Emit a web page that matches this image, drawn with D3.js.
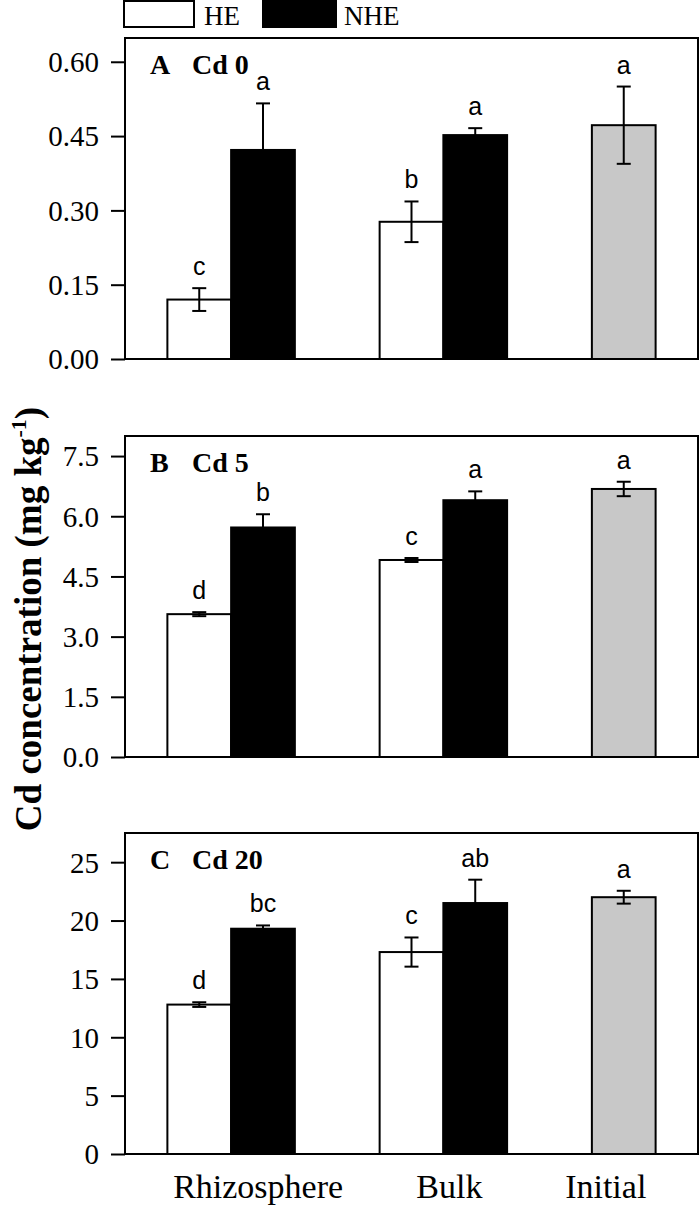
<!DOCTYPE html>
<html><head><meta charset="utf-8">
<script src="https://cdn.jsdelivr.net/npm/d3@7"></script>
<style>body{margin:0;background:#fff}</style>
</head><body>
<svg id="chart" width="700" height="1208"></svg>
<script>
// ---------- DATA ----------
const groups = ["Rhizosphere", "Bulk", "Initial"];
const barGroup = ["Rhizosphere", "Rhizosphere", "Bulk", "Bulk", "Initial"];
const barSeries = ["HE", "NHE", "HE", "NHE", "Initial"];
const legendSeries = ["HE", "NHE"];
const panelLetters = ["A", "B", "C"];
const panelTitles = ["Cd 0", "Cd 5", "Cd 20"];

const valuesA = [0.120, 0.422, 0.277, 0.452, 0.472];
const errorsA = [0.023, 0.094, 0.041, 0.014, 0.078];
const lettersA = ["c", "a", "b", "a", "a"];

const valuesB = [3.56, 5.72, 4.91, 6.40, 6.68];
const errorsB = [0.05, 0.33, 0.05, 0.22, 0.18];
const lettersB = ["d", "b", "c", "a", "a"];

const valuesC = [12.8, 19.3, 17.3, 21.5, 22.0];
const errorsC = [0.20, 0.28, 1.25, 2.0, 0.55];
const lettersC = ["d", "bc", "c", "ab", "a"];

const ticksA = [0, 0.15, 0.30, 0.45, 0.60];
const ticksB = [0, 1.5, 3.0, 4.5, 6.0, 7.5];
const ticksC = [0, 5, 10, 15, 20, 25];
const yMaxA = 0.648, yMaxB = 8.0, yMaxC = 27.5;

const yLabel = "Cd concentration (mg kg";
const yLabelSup = "-1";

// ---------- LAYOUT ----------
const svg = d3.select("#chart");
const left = 125, right = 698, panelH = 321;
const tops = [38, 436, 833];
const serif = "'Liberation Serif','Times New Roman',serif";
const sans = "'Liberation Sans',Arial,sans-serif";
const fill = {HE: "#ffffff", NHE: "#000000", Initial: "#c8c8c8"};

// slot layout: groups separated by gap (in bar widths), half gap at edges
const gap = 1.33;
const slot = [];
let u = gap / 2;
const groupSpan = {};
groups.forEach(g => {
  const start = u;
  barGroup.forEach((bg, i) => { if (bg === g) { slot[i] = u; u += 1; } });
  groupSpan[g] = [start, u];
  u += gap;
});
const total = u - gap / 2;
const x = d3.scaleLinear().domain([0, total]).range([left, right]);

const panels = [
  {vals: valuesA, errs: errorsA, lets: lettersA, ticks: ticksA, max: yMaxA, fmt: d3.format(".2f")},
  {vals: valuesB, errs: errorsB, lets: lettersB, ticks: ticksB, max: yMaxB, fmt: d3.format(".1f")},
  {vals: valuesC, errs: errorsC, lets: lettersC, ticks: ticksC, max: yMaxC, fmt: d3.format("d")}
];

panels.forEach((p, pi) => {
  const top = tops[pi];
  const y = d3.scaleLinear().domain([0, p.max]).range([top + panelH, top]);
  const g = svg.append("g");

  // bars
  g.selectAll("rect.bar").data(p.vals).join("rect")
    .attr("class", "bar")
    .attr("x", (d, i) => x(slot[i]))
    .attr("width", (d, i) => x(slot[i] + 1) - x(slot[i]))
    .attr("y", d => y(d))
    .attr("height", d => y(0) - y(d))
    .attr("fill", (d, i) => fill[barSeries[i]])
    .attr("stroke", "#000").attr("stroke-width", 2);

  // error bars + significance letters
  const cap = 7;
  p.vals.forEach((v, i) => {
    const cx = x(slot[i] + 0.5);
    const e = p.errs[i];
    const eg = g.append("g").attr("stroke", "#000").attr("stroke-width", 2);
    eg.append("line").attr("x1", cx).attr("x2", cx).attr("y1", y(v + e)).attr("y2", y(v - e));
    eg.append("line").attr("x1", cx - cap).attr("x2", cx + cap).attr("y1", y(v + e)).attr("y2", y(v + e));
    eg.append("line").attr("x1", cx - cap).attr("x2", cx + cap).attr("y1", y(v - e)).attr("y2", y(v - e));
    g.append("text").attr("x", cx).attr("y", y(v + e) - 13)
      .attr("text-anchor", "middle").attr("font-family", sans).attr("font-size", 25)
      .text(p.lets[i]);
  });

  // frame
  g.append("rect").attr("x", left).attr("y", top).attr("width", right - left).attr("height", panelH)
    .attr("fill", "none").attr("stroke", "#000").attr("stroke-width", 2);

  // y axis
  const ax = g.append("g").attr("transform", `translate(${left},0)`)
    .call(d3.axisLeft(y).tickValues(p.ticks).tickSize(14).tickPadding(12).tickFormat(p.fmt));
  ax.select(".domain").remove();
  ax.selectAll(".tick line").attr("stroke", "#000").attr("stroke-width", 2);
  ax.selectAll(".tick text").attr("font-family", serif).attr("font-size", 29).attr("fill", "#000").attr("dy", "0.34em");

  // panel title
  g.append("text").attr("x", 150).attr("y", top + 36)
    .attr("font-family", serif).attr("font-weight", "bold").attr("font-size", 28).text(panelLetters[pi]);
  g.append("text").attr("x", 192).attr("y", top + 36)
    .attr("font-family", serif).attr("font-weight", "bold").attr("font-size", 28).text(panelTitles[pi]);
});

// x labels
const labelDx = [27, 6, -18];
groups.forEach((gname, i) => {
  const [a, b] = groupSpan[gname];
  svg.append("text").attr("x", x((a + b) / 2) + labelDx[i]).attr("y", 1198)
    .attr("text-anchor", "middle").attr("font-family", serif).attr("font-size", 34).text(gname);
});

// y label
const yl = svg.append("text").attr("transform", "translate(41,619) rotate(-90)")
  .attr("text-anchor", "middle").attr("font-family", serif).attr("font-weight", "bold").attr("font-size", 37);
yl.append("tspan").text(yLabel);
yl.append("tspan").attr("font-size", 22).attr("dy", -15).text(yLabelSup);
yl.append("tspan").attr("dy", 15).text(")");

// legend
const legX = [124, 263], legW = [70, 73], legTX = [204, 344];
legendSeries.forEach((s, i) => {
  svg.append("rect").attr("x", legX[i]).attr("y", 1).attr("width", legW[i]).attr("height", 26)
    .attr("fill", fill[s]).attr("stroke", "#000").attr("stroke-width", 2);
  svg.append("text").attr("x", legTX[i]).attr("y", 25).attr("font-family", serif).attr("font-size", 27).text(s);
});
</script>
</body></html>
